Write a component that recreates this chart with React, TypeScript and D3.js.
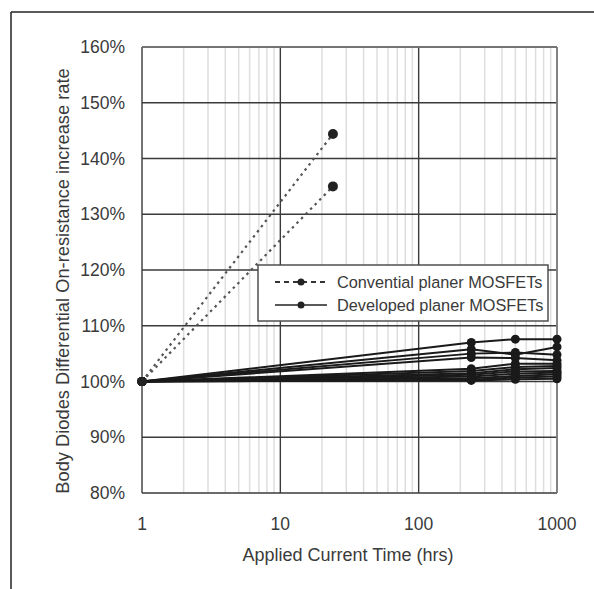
import React from "react";
import * as d3 from "d3";

const W = 594;
const H = 589;

const yTicks = [80, 90, 100, 110, 120, 130, 140, 150, 160];
const xTicks = [1, 10, 100, 1000];
const xTickLabels = ["1", "10", "100", "1000"];

const convTimes = [1, 24];
const conv1 = [100, 144.4];
const conv2 = [100, 135.0];

const devTimes = [1, 240, 500, 1000];
const dev1 = [100, 107.0, 107.6, 107.6];
const dev2 = [100, 105.8, 104.8, 106.2];
const dev3 = [100, 105.0, 105.2, 104.8];
const dev4 = [100, 104.3, 104.2, 103.8];
const dev5 = [100, 102.3, 103.2, 103.2];
const dev6 = [100, 101.9, 102.6, 102.8];
const dev7 = [100, 101.5, 102.2, 102.4];
const dev8 = [100, 101.2, 101.8, 101.9];
const dev9 = [100, 100.9, 101.4, 101.6];
const dev10 = [100, 100.6, 101.0, 101.3];
const dev11 = [100, 100.3, 100.7, 100.9];
const dev12 = [100, 100.2, 100.4, 100.5];

const devSeries = [dev1, dev2, dev3, dev4, dev5, dev6, dev7, dev8, dev9, dev10, dev11, dev12];
const convSeries = [conv1, conv2];

const legendLabels = ["Convential planer MOSFETs", "Developed planer MOSFETs"];

const xTitle = "Applied Current Time (hrs)";
const yTitle = "Body Diodes Differential On-resistance increase rate";

const FONT = "Liberation Sans, Arial, Helvetica, sans-serif";

export default function App() {
  const left = 142, right = 557, top = 47, bottom = 493;
  const x = d3.scaleLog().domain([1, 1000]).range([left, right]);
  const y = d3.scaleLinear().domain([80, 160]).range([bottom, top]);

  const minor: number[] = [];
  [1, 10, 100].forEach((dec) => {
    for (let k = 2; k <= 9; k++) minor.push(dec * k);
  });

  const line = d3
    .line<[number, number]>()
    .x((d) => x(d[0]))
    .y((d) => y(d[1]));

  const lg = { x0: 258, y0: 265, x1: 548, y1: 321 };

  return (
    <svg
      width={W}
      height={H}
      style={{ position: "absolute", left: 0, top: 0, background: "#fff" }}
      fontFamily={FONT}
    >
      <rect x={0} y={0} width={W} height={H} fill="#fff" />
      {/* outer frame */}
      <line x1={11} y1={12} x2={W} y2={12} stroke="#222" strokeWidth={1.5} />
      <line x1={11} y1={12} x2={11} y2={H} stroke="#222" strokeWidth={1.5} />

      {/* minor vertical grid */}
      {minor.map((v) => (
        <line key={"m" + v} x1={x(v)} x2={x(v)} y1={top} y2={bottom} stroke="#dedede" strokeWidth={1.5} />
      ))}
      {/* major horizontal grid */}
      {yTicks.map((v) => (
        <line key={"h" + v} x1={left} x2={right} y1={y(v)} y2={y(v)} stroke="#3a3a3a" strokeWidth={1.4} />
      ))}
      {/* major vertical grid */}
      {xTicks.map((v) => (
        <line key={"v" + v} x1={x(v)} x2={x(v)} y1={top} y2={bottom} stroke="#3a3a3a" strokeWidth={1.4} />
      ))}
      <line x1={right} x2={right} y1={top} y2={bottom} stroke="#888" strokeWidth={1.5} />
      <line x1={left} x2={right} y1={top} y2={top} stroke="#777" strokeWidth={1.5} />

      {/* y tick labels */}
      {yTicks.map((v) => (
        <text key={"yt" + v} x={125} y={y(v)} dy="0.35em" textAnchor="end" fontSize={17.5} fill="#3a3a3a">
          {v + "%"}
        </text>
      ))}
      {/* x tick labels */}
      {xTicks.map((v, i) => (
        <text key={"xt" + v} x={x(v)} y={530} textAnchor="middle" fontSize={17.5} fill="#3a3a3a">
          {xTickLabels[i]}
        </text>
      ))}
      <text x={348} y={561} textAnchor="middle" fontSize={18} fill="#3a3a3a">
        {xTitle}
      </text>
      <text
        transform={`translate(69,281) rotate(-90)`}
        textAnchor="middle"
        fontSize={18.3}
        fill="#3a3a3a"
      >
        {yTitle}
      </text>

      {/* developed series */}
      {devSeries.map((s, i) => (
        <g key={"d" + i}>
          <path
            d={line(devTimes.map((t, j) => [t, s[j]] as [number, number])) || ""}
            fill="none"
            stroke="#1a1a1a"
            strokeWidth={2}
          />
          {devTimes.map((t, j) => (
            <circle key={j} cx={x(t)} cy={y(s[j])} r={4.5} fill="#1a1a1a" />
          ))}
        </g>
      ))}

      {/* conventional series */}
      {convSeries.map((s, i) => (
        <g key={"c" + i}>
          <path
            d={line(convTimes.map((t, j) => [t, s[j]] as [number, number])) || ""}
            fill="none"
            stroke="#555"
            strokeWidth={2.2}
            strokeDasharray="2.5,4"
          />
          {convTimes.map((t, j) => (
            <circle key={j} cx={x(t)} cy={y(s[j])} r={j === 0 ? 4.5 : 5} fill="#222" />
          ))}
        </g>
      ))}

      {/* legend */}
      <rect
        x={lg.x0}
        y={lg.y0}
        width={lg.x1 - lg.x0}
        height={lg.y1 - lg.y0}
        fill="#fff"
        stroke="#444"
        strokeWidth={1.4}
      />
      <line x1={275} x2={327} y1={282} y2={282} stroke="#333" strokeWidth={2} strokeDasharray="5,4" />
      <circle cx={301} cy={282} r={3.5} fill="#222" />
      <line x1={275} x2={327} y1={305} y2={305} stroke="#222" strokeWidth={1.5} />
      <circle cx={301} cy={305} r={3.5} fill="#222" />
      <text x={337} y={288} fontSize={16.3} fill="#3a3a3a">
        {legendLabels[0]}
      </text>
      <text x={337} y={311} fontSize={16.3} fill="#3a3a3a">
        {legendLabels[1]}
      </text>
    </svg>
  );
}
